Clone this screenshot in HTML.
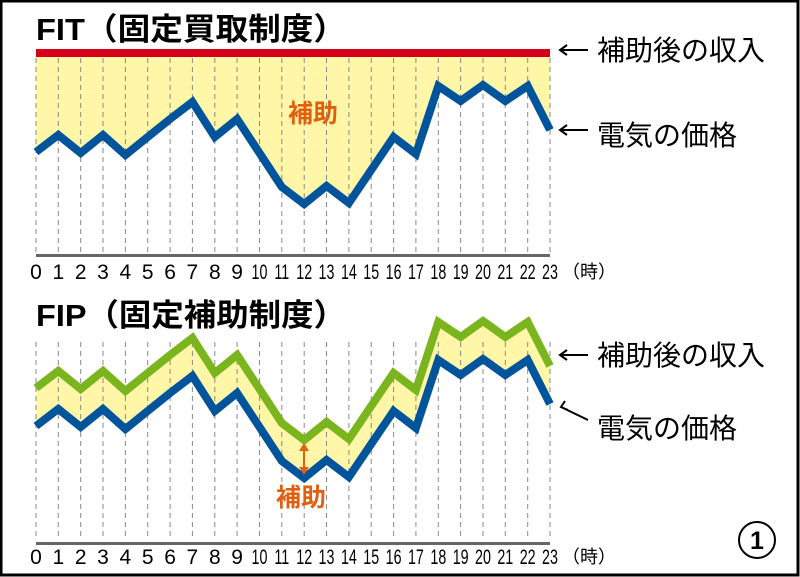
<!DOCTYPE html>
<html><head><meta charset="utf-8"><style>
body{margin:0;background:#fff}
svg{display:block}
text{font-family:"Liberation Sans","Noto Sans CJK JP",sans-serif}
</style></head><body>
<svg width="800" height="577" viewBox="0 0 800 577" xmlns="http://www.w3.org/2000/svg">
<rect x="1" y="1" width="797" height="574" fill="#fff" stroke="#000" stroke-width="3"/>
<!-- TOP -->
<text x="36" y="40" font-size="31" font-weight="bold" textLength="310" lengthAdjust="spacingAndGlyphs">FIT（固定買取制度）</text>
<polygon points="36,56 550,56 550,130 527.7,86 505.3,101 483,85 460.6,101 438.3,86 415.9,154 393.6,137 371.2,170 348.9,203 326.5,186 304.2,204 281.8,187 259.5,153 237.1,119 214.8,137 192.4,102 170.1,119 147.7,137 125.4,155 103,135 80.7,153 58.3,135 36,152" fill="#fff6a8"/>
<g stroke="#888" stroke-width="1" stroke-dasharray="5,4">
<path d="M36,58V252M58.3,58V252M80.7,58V252M103,58V252M125.4,58V252M147.7,58V252M170.1,58V252M192.4,58V252M214.8,58V252M237.1,58V252M259.5,58V252M281.8,58V252M304.2,58V252M326.5,58V252M348.9,58V252M371.2,58V252M393.6,58V252M415.9,58V252M438.3,58V252M460.6,58V252M483,58V252M505.3,58V252M527.7,58V252M550,58V252"/>
</g>
<rect x="36" y="49" width="514" height="8" fill="#d7001b"/>
<rect x="36" y="254" width="514" height="3" fill="#666"/>
<polyline points="36,152 58.3,135 80.7,153 103,135 125.4,155 147.7,137 170.1,119 192.4,102 214.8,137 237.1,119 259.5,153 281.8,187 304.2,204 326.5,186 348.9,203 371.2,170 393.6,137 415.9,154 438.3,86 460.6,101 483,85 505.3,101 527.7,86 550,130" fill="none" stroke="#00549c" stroke-width="8"/>
<text x="288" y="122" font-size="25" font-weight="bold" fill="#e0600f">補助</text>
<g stroke="#000" stroke-width="2" fill="none">
<path d="M560,50H588M567,45L560,50L567,55"/>
<path d="M560,130H588M567,125L560,130L567,135"/>
<path d="M561,407L588,420M565,401L561,407L568,410"/>
<path d="M560,355H588M567,350L560,355L567,360"/>
</g>
<text x="597" y="60" font-size="28">補助後の収入</text>
<text x="597" y="145" font-size="28">電気の価格</text>
<g font-size="21" text-anchor="middle">
<text x="36" y="279">0</text><text x="58.3" y="279">1</text><text x="80.7" y="279">2</text><text x="103" y="279">3</text><text x="125.4" y="279">4</text><text x="147.7" y="279">5</text><text x="170.1" y="279">6</text><text x="192.4" y="279">7</text><text x="214.8" y="279">8</text><text x="237.1" y="279">9</text>
<g transform="translate(0,279) scale(0.68,1)">
<text x="381.6" y="0">10</text><text x="414.4" y="0">11</text><text x="447.4" y="0">12</text><text x="480.1" y="0">13</text><text x="513.1" y="0">14</text><text x="545.9" y="0">15</text><text x="578.8" y="0">16</text><text x="611.6" y="0">17</text><text x="644.6" y="0">18</text><text x="677.4" y="0">19</text><text x="710.3" y="0">20</text><text x="743.1" y="0">21</text><text x="776" y="0">22</text><text x="808.8" y="0">23</text>
</g>
</g>
<text x="562" y="278" font-size="18">（時）</text>
<!-- BOTTOM -->
<text x="36" y="326" font-size="31" font-weight="bold" textLength="310" lengthAdjust="spacingAndGlyphs">FIP（固定補助制度）</text>
<polygon points="36,388 58.3,371 80.7,389 103,371 125.4,391 147.7,373 170.1,355 192.4,338 214.8,373 237.1,355 259.5,389 281.8,423 304.2,440 326.5,422 348.9,439 371.2,406 393.6,373 415.9,390 438.3,322 460.6,337 483,321 505.3,337 527.7,322 550,366 550,404 527.7,360 505.3,375 483,359 460.6,375 438.3,360 415.9,428 393.6,411 371.2,444 348.9,477 326.5,460 304.2,478 281.8,461 259.5,427 237.1,393 214.8,411 192.4,376 170.1,393 147.7,411 125.4,429 103,409 80.7,427 58.3,409 36,426" fill="#fff6a8"/>
<g stroke="#888" stroke-width="1" stroke-dasharray="5,4">
<path d="M36,342V540M58.3,342V540M80.7,342V540M103,342V540M125.4,342V540M147.7,342V540M170.1,342V540M192.4,342V540M214.8,342V540M237.1,342V540M259.5,342V540M281.8,342V540M304.2,342V540M326.5,342V540M348.9,342V540M371.2,342V540M393.6,342V540M415.9,342V540M438.3,342V540M460.6,342V540M483,342V540M505.3,342V540M527.7,342V540M550,342V540"/>
</g>
<rect x="36" y="542" width="514" height="3" fill="#666"/>
<polyline points="36,388 58.3,371 80.7,389 103,371 125.4,391 147.7,373 170.1,355 192.4,338 214.8,373 237.1,355 259.5,389 281.8,423 304.2,440 326.5,422 348.9,439 371.2,406 393.6,373 415.9,390 438.3,322 460.6,337 483,321 505.3,337 527.7,322 550,366" fill="none" stroke="#7ab51d" stroke-width="8"/>
<polyline points="36,426 58.3,409 80.7,427 103,409 125.4,429 147.7,411 170.1,393 192.4,376 214.8,411 237.1,393 259.5,427 281.8,461 304.2,478 326.5,460 348.9,477 371.2,444 393.6,411 415.9,428 438.3,360 460.6,375 483,359 505.3,375 527.7,360 550,404" fill="none" stroke="#00549c" stroke-width="8"/>
<g stroke="#e0600f" stroke-width="2" fill="#e0600f">
<line x1="304" y1="446" x2="304" y2="472"/>
<path d="M299,451 L304,443 L309,451Z" stroke="none"/>
<path d="M299,467 L304,475 L309,467Z" stroke="none"/>
</g>
<text x="276" y="506" font-size="25" font-weight="bold" fill="#e0600f">補助</text>
<text x="597" y="365" font-size="28">補助後の収入</text>
<text x="597" y="438" font-size="28">電気の価格</text>
<g font-size="21" text-anchor="middle">
<text x="36" y="564">0</text><text x="58.3" y="564">1</text><text x="80.7" y="564">2</text><text x="103" y="564">3</text><text x="125.4" y="564">4</text><text x="147.7" y="564">5</text><text x="170.1" y="564">6</text><text x="192.4" y="564">7</text><text x="214.8" y="564">8</text><text x="237.1" y="564">9</text>
<g transform="translate(0,564) scale(0.68,1)">
<text x="381.6" y="0">10</text><text x="414.4" y="0">11</text><text x="447.4" y="0">12</text><text x="480.1" y="0">13</text><text x="513.1" y="0">14</text><text x="545.9" y="0">15</text><text x="578.8" y="0">16</text><text x="611.6" y="0">17</text><text x="644.6" y="0">18</text><text x="677.4" y="0">19</text><text x="710.3" y="0">20</text><text x="743.1" y="0">21</text><text x="776" y="0">22</text><text x="808.8" y="0">23</text>
</g>
</g>
<text x="562" y="563" font-size="18">（時）</text>
<circle cx="757" cy="540" r="18" fill="none" stroke="#000" stroke-width="2"/>
<text x="757" y="549" font-size="25" font-weight="bold" text-anchor="middle">1</text>
</svg>
</body></html>
